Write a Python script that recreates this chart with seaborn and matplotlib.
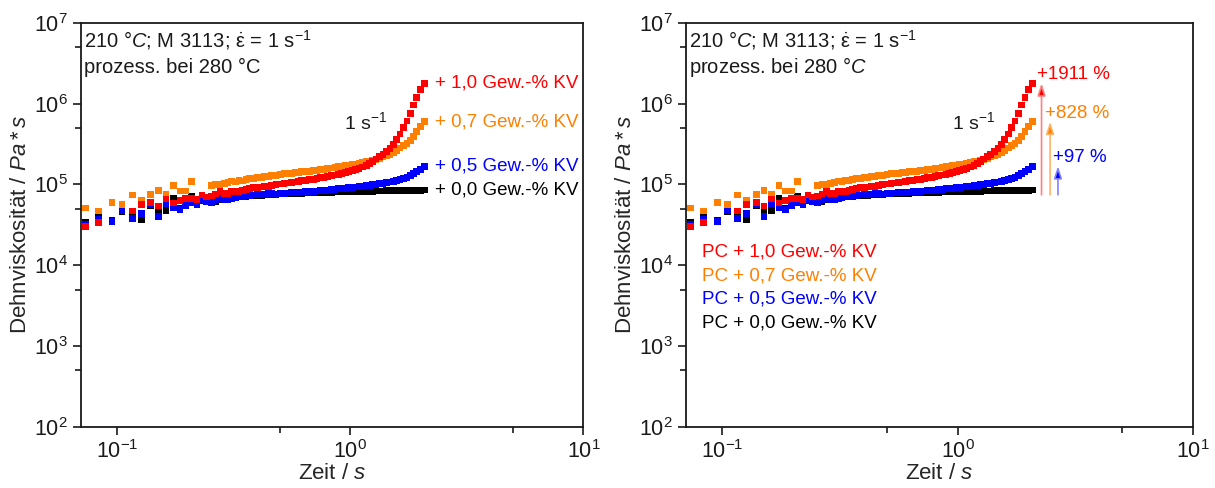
import numpy as np
import pandas as pd
import matplotlib
matplotlib.use('Agg')
import matplotlib.pyplot as plt
import matplotlib.ticker as mticker
import seaborn as sns

sns.set_style('ticks')
plt.rcParams['font.family'] = ['Liberation Sans', 'DejaVu Sans']
plt.rcParams['mathtext.fontset'] = 'custom'
plt.rcParams['mathtext.rm'] = 'Liberation Sans'
plt.rcParams['mathtext.it'] = 'Liberation Sans:italic'
plt.rcParams['mathtext.bf'] = 'Liberation Sans:bold'

# Messzeit (s)
zeit = [0.073, 0.083, 0.095, 0.105, 0.116, 0.127, 0.139, 0.150, 0.162, 0.174,
        0.186, 0.197, 0.208, 0.220, 0.231, 0.242, 0.254, 0.265, 0.276, 0.288,
        0.299, 0.310, 0.322, 0.333, 0.345, 0.357, 0.370, 0.385, 0.400, 0.415,
        0.430, 0.445, 0.460, 0.48, 0.50, 0.52, 0.54, 0.56, 0.58, 0.60,
        0.62, 0.645, 0.67, 0.695, 0.72, 0.745, 0.77, 0.80, 0.83, 0.86,
        0.89, 0.92, 0.95, 0.985, 1.02, 1.055, 1.09, 1.13, 1.17, 1.21,
        1.25, 1.29, 1.335, 1.38, 1.43, 1.48, 1.53, 1.58, 1.635, 1.69,
        1.75, 1.81, 1.87, 1.93, 2.00, 2.08]

# Dehnviskositaet (Pa*s)
kv_00 = [3.4e4, 4.1e4, 3.6e4, 4.6e4, 4.4e4, 3.7e4, 5.5e4, 4.6e4, 4.8e4, 6.7e4,
         5.0e4, 5.8e4, 7.1e4, 6.0e4, 6.3e4, 6.8e4, 6.5e4, 6.2e4, 6.4e4, 6.6e4,
         6.9e4, 7.0e4, 6.8e4, 7.0e4, 7.1e4, 7.1e4, 7.2e4, 7.25e4, 7.3e4, 7.35e4,
         7.4e4, 7.45e4, 7.5e4, 7.55e4, 7.6e4, 7.65e4, 7.7e4, 7.7e4, 7.75e4, 7.8e4,
         7.8e4, 7.85e4, 7.85e4, 7.9e4, 7.95e4, 7.95e4, 8.0e4, 8.0e4, 8.0e4, 8.05e4,
         8.05e4, 8.1e4, 8.1e4, 8.1e4, 8.15e4, 8.15e4, 8.2e4, 8.2e4, 8.2e4, 8.25e4,
         8.25e4, 8.3e4, 8.3e4, 8.3e4, 8.35e4, 8.35e4, 8.4e4, 8.4e4, 8.4e4, 8.45e4,
         8.45e4, 8.5e4, 8.5e4, 8.5e4, 8.5e4, 8.55e4]
kv_05 = [3.2e4, 3.7e4, 3.5e4, 4.7e4, 3.75e4, 4.4e4, 5.7e4, 4.0e4, 5.8e4, 5.2e4,
         4.9e4, 5.5e4, 6.0e4, 5.6e4, 6.4e4, 6.2e4, 6.0e4, 6.5e4, 6.7e4, 6.5e4,
         6.4e4, 6.7e4, 6.9e4, 7.0e4, 7.1e4, 7.2e4, 7.3e4, 7.4e4, 7.5e4, 7.55e4,
         7.6e4, 7.7e4, 7.7e4, 7.6e4, 7.7e4, 7.75e4, 7.85e4, 7.9e4, 7.95e4, 8.0e4,
         8.05e4, 8.1e4, 8.15e4, 8.2e4, 8.3e4, 8.35e4, 8.45e4, 8.55e4, 8.65e4, 8.75e4,
         8.85e4, 8.9e4, 9.0e4, 9.1e4, 9.2e4, 9.3e4, 9.4e4, 9.5e4, 9.6e4, 9.75e4,
         9.9e4, 1.0e5, 1.02e5, 1.03e5, 1.05e5, 1.07e5, 1.09e5, 1.11e5, 1.14e5, 1.17e5,
         1.23e5, 1.29e5, 1.35e5, 1.43e5, 1.53e5, 1.68e5]
kv_07 = [5.1e4, 4.7e4, 6.0e4, 5.7e4, 7.4e4, 6.4e4, 7.5e4, 8.5e4, 7.6e4, 9.8e4,
         8.3e4, 8.3e4, 1.08e5, np.nan, np.nan, np.nan, 9.6e4, 9.9e4, 1.0e5, 1.03e5,
         1.06e5, 1.10e5, 1.07e5, 1.12e5, 1.10e5, 1.15e5, 1.18e5, 1.19e5, 1.21e5, 1.22e5,
         1.24e5, 1.26e5, 1.28e5, 1.30e5, 1.33e5, 1.36e5, 1.37e5, 1.38e5, 1.39e5, 1.42e5,
         1.43e5, 1.44e5, 1.46e5, 1.48e5, 1.50e5, 1.52e5, 1.54e5, 1.56e5, 1.60e5, 1.63e5,
         1.65e5, 1.67e5, 1.70e5, 1.72e5, 1.75e5, 1.79e5, 1.82e5, 1.86e5, 1.90e5, 1.94e5,
         1.98e5, 2.03e5, 2.10e5, 2.18e5, 2.27e5, 2.37e5, 2.50e5, 2.65e5, 2.82e5, 3.0e5,
         3.22e5, 3.5e5, 3.95e5, 4.5e5, 5.2e5, 5.96e5]
kv_10 = [3.05e4, 3.4e4, np.nan, np.nan, 4.7e4, 5.7e4, 6.0e4, 5.4e4, 6.6e4, 5.9e4,
         6.3e4, 6.7e4, 6.7e4, 6.5e4, 7.4e4, 7.0e4, 7.2e4, 7.6e4, 8.1e4, 7.7e4,
         7.8e4, 8.1e4, 8.3e4, 8.2e4, 8.5e4, 8.7e4, 9.0e4, 9.1e4, 9.2e4, 9.3e4,
         9.4e4, 9.5e4, 9.7e4, 9.9e4, 1.01e5, 1.03e5, 1.04e5, 1.06e5, 1.07e5, 1.09e5,
         1.11e5, 1.12e5, 1.14e5, 1.16e5, 1.19e5, 1.21e5, 1.23e5, 1.25e5, 1.28e5, 1.31e5,
         1.34e5, 1.37e5, 1.40e5, 1.43e5, 1.47e5, 1.52e5, 1.57e5, 1.64e5, 1.72e5, 1.82e5,
         1.93e5, 2.06e5, 2.20e5, 2.35e5, 2.55e5, 2.8e5, 3.15e5, 3.6e5, 4.2e5, 5.0e5,
         6.1e5, 7.6e5, 9.6e5, 1.2e6, 1.5e6, 1.78e6]

# Reihenfolge = Zeichenreihenfolge (rot oben)
serien = ['0,0', '0,5', '0,7', '1,0']
werte = [kv_00, kv_05, kv_07, kv_10]
farben = ['#000000', '#0000FF', '#FF8000', '#FF0000']
pfeil_hell = {'1,0': '#FF8080', '0,7': '#FFB366', '0,5': '#8080FF'}
prozent = {'1,0': '+1911 %', '0,7': '+828 %', '0,5': '+97 %'}

df = pd.concat([pd.DataFrame({'Zeit': zeit, 'eta': w, 'KV': s})
                for s, w in zip(serien, werte)], ignore_index=True)
palette = dict(zip(serien, farben))
ende = {s: w[-1] for s, w in zip(serien, werte)}
t_ende = zeit[-1]

fig = plt.figure(figsize=(12.15, 4.88), dpi=100)
ax1 = fig.add_axes([0.0667, 0.125, 0.4135, 0.8285])
ax2 = fig.add_axes([0.5646, 0.125, 0.4175, 0.8285])

for ax in (ax1, ax2):
    sns.scatterplot(data=df, x='Zeit', y='eta', hue='KV', palette=palette,
                    marker='s', s=24, linewidth=0, legend=False, ax=ax)
    ax.set_xscale('log')
    ax.set_yscale('log')
    ax.set_xlim(0.07, 10)
    ax.set_ylim(1e2, 1e7)
    ax.xaxis.set_major_locator(mticker.LogLocator(base=10, numticks=10))
    ax.yaxis.set_major_locator(mticker.LogLocator(base=10, numticks=10))
    ax.xaxis.set_minor_locator(mticker.LogLocator(base=10, subs=[5], numticks=10))
    ax.yaxis.set_minor_locator(mticker.LogLocator(base=10, subs=[5], numticks=10))
    ax.xaxis.set_minor_formatter(mticker.NullFormatter())
    ax.yaxis.set_minor_formatter(mticker.NullFormatter())
    ax.tick_params(which='major', direction='out', length=6, width=1.2,
                   labelsize=15.5, top=False, right=False, colors='#1a1a1a')
    ax.tick_params(which='minor', direction='out', length=4, width=1.2,
                   top=False, right=False, colors='#1a1a1a')
    for sp in ax.spines.values():
        sp.set_visible(True)
        sp.set_linewidth(1.3)
        sp.set_color('#1a1a1a')
    ax.set_xlabel('Zeit / $\\mathit{s}$', fontsize=16, labelpad=0)
    ax.set_ylabel('Dehnviskosität / $\\mathit{Pa*s}$', fontsize=16, labelpad=2)
    ax.text(0.006, 0.957, '210 °$\\mathit{C}$; M 3113; $\\dot{\\mathrm{\\varepsilon}}$ = 1 s$^{-1}$',
            transform=ax.transAxes, fontsize=14.5, va='center', ha='left', color='#1a1a1a')
    ax.text(t_ende * 0.56, 5.96e5, '1 s$^{-1}$', fontsize=14, ha='center',
            va='center', color='#1a1a1a')

ax1.text(0.006, 0.89, 'prozess. bei 280 °C', transform=ax1.transAxes,
         fontsize=14.5, va='center', ha='left', color='#1a1a1a')
ax2.text(0.006, 0.89, 'prozess. bei 280 °$\\mathit{C}$', transform=ax2.transAxes,
         fontsize=14.5, va='center', ha='left', color='#1a1a1a')

# Beschriftung an den Kurvenenden (links)
for s, c in zip(serien, farben):
    ax1.text(t_ende * 1.115, ende[s], f'+ {s} Gew.-% KV', color=c,
             fontsize=13.5, va='center', ha='left')

# Legende als Text (rechts)
for i, (s, c) in enumerate(zip(serien[::-1], farben[::-1])):
    ax2.text(0.031, 0.432 - i * 0.058, f'PC + {s} Gew.-% KV', color=c,
             fontsize=13.5, va='center', ha='left', transform=ax2.transAxes)

# Pfeile mit prozentualer Steigerung
basis = ende['0,0'] * 0.87
for j, s in enumerate(['1,0', '0,7', '0,5']):
    xa = t_ende * (1.09 + 0.095 * j)
    ax2.annotate('', xy=(xa, ende[s]), xytext=(xa, basis),
                 arrowprops=dict(arrowstyle='-|>,head_length=0.6,head_width=0.2',
                                 lw=1.2, ec=pfeil_hell[s], fc=palette[s],
                                 mutation_scale=12, shrinkA=0, shrinkB=0))
    ax2.text(xa * 0.955, ende[s] * 1.28, prozent[s], color=palette[s],
             fontsize=13.5, va='center', ha='left')

fig.savefig('out.png', dpi=100)
